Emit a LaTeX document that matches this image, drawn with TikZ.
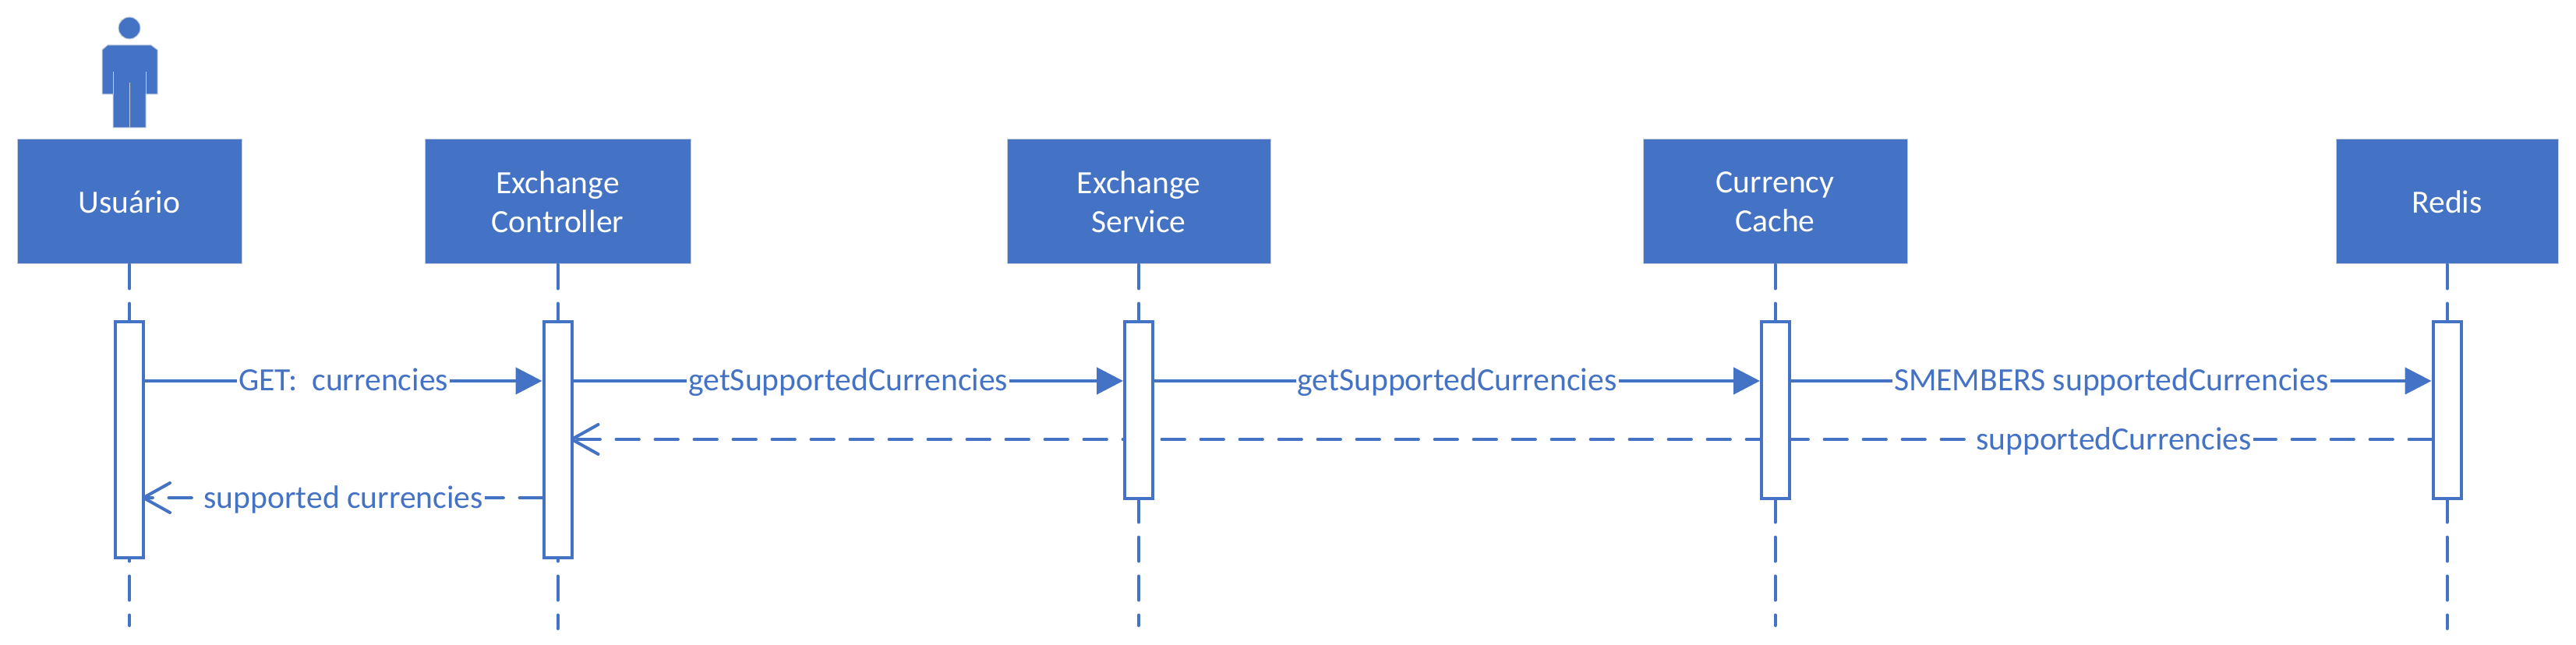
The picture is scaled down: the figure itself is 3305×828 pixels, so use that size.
\documentclass[tikz,border=0pt]{standalone}
\usepackage{fontspec}
\setmainfont{Carlito}
\usetikzlibrary{arrows.meta,backgrounds}
\definecolor{blu}{HTML}{4472C4}
\definecolor{edge}{HTML}{C5CCDC}
\tikzset{x=0.5pt,y=-0.5pt,
  party/.style={draw=edge,line width=0.5pt,fill=blu,text=white,align=center,inner sep=0pt,minimum height=80pt,font=\fontsize{20.8}{25.2}\selectfont},
  act/.style={draw=blu,line width=2pt,fill=white,inner sep=0pt,minimum width=18pt},
  life/.style={draw=blu,line width=2pt,dash pattern=on 15.5pt off 9.5pt,line cap=round},
  call/.style={draw=blu,line width=2.4pt,-{Triangle[length=17pt,width=17pt]}},
  back/.style={draw=blu,line width=2.4pt,dash pattern=on 14.3pt off 10.7pt,line cap=round,shorten >=-2pt,-{Straight Barb[length=17pt,width=19pt,line width=2pt,round]}},
  lbl/.style={fill=white,text=blu,inner sep=1pt,text height=18pt,text depth=5pt,font=\fontsize{20.8}{25}\selectfont},
  figure/.style={fill=blu,draw=edge,line width=0.5pt}}
\begin{document}
\begin{tikzpicture}
\useasboundingbox (0,0) rectangle (3305,828);
% party boxes
\node[party,minimum width=144pt] (pu) at (166,259) {Usuário};
\node[party,minimum width=170.5pt] (pc) at (715.5,259) {Exchange\\Controller};
\node[party,minimum width=169pt] (ps) at (1461,259) {Exchange\\Service};
\node[party,minimum width=169.5pt] (pk) at (2277.5,259) {Currency\\Cache};
\node[party,minimum width=142.5pt] (pr) at (3139.5,259) {Redis};
% lifeline ends
\coordinate (eu) at (166,803);
\coordinate (ec) at (715.5,807);
\coordinate (es) at (1461,803);
\coordinate (ek) at (2277.5,803);
\coordinate (er) at (3139.5,807);
\draw[life] (pu.south) -- (eu);
\draw[life] (pc.south) -- (ec);
\draw[life] (ps.south) -- (es);
\draw[life] (pk.south) -- (ek);
\draw[life] (pr.south) -- (er);
\coordinate (m1) at (0,489);
\coordinate (m2) at (0,564);
\coordinate (m3) at (0,639);
% activation bars
\node[act,minimum height=151pt] (au) at (166,564.5) {};
\node[act,minimum height=151pt] (ac) at (715.5,564.5) {};
\node[act,minimum height=113pt] (as) at (1461,526.5) {};
\node[act,minimum height=113pt] (ak) at (2278,526.5) {};
\node[act,minimum height=113pt] (ar) at (3139.5,526.5) {};
% the long return line passes behind the activation bars
\begin{scope}[on background layer]
\fill[white] (0,0) rectangle (3305,828);
\draw[back] (ar.west |- m2) -- (ac.east |- m2);
\node[lbl] (lr) at (2712,564) {supportedCurrencies};
\end{scope}
% calls
\draw[call] (au.east |- m1) -- node[lbl] {GET:\ \ currencies} (ac.west |- m1);
\draw[call] (ac.east |- m1) -- node[lbl] {getSupportedCurrencies} (as.west |- m1);
\draw[call] (as.east |- m1) -- node[lbl] {getSupportedCurrencies} (ak.west |- m1);
\draw[call] (ak.east |- m1) -- node[lbl] {SMEMBERS supportedCurrencies} (ar.west |- m1);
\draw[back] (ac.west |- m3) -- node[lbl] {supported currencies} (au.east |- m3);
% actor
\fill[figure] (166,36) circle (14);
\path[figure] (138,58) -- (194,58) -- (202,64) -- (202,121) -- (187,121) -- (187,164) -- (145,164) -- (145,121) -- (131,121) -- (131,64) -- cycle;
\draw[edge,line width=0.5pt] (145,92) -- (145,121) (187,92) -- (187,121) (166,106) -- (166,164);
\end{tikzpicture}
\end{document}
